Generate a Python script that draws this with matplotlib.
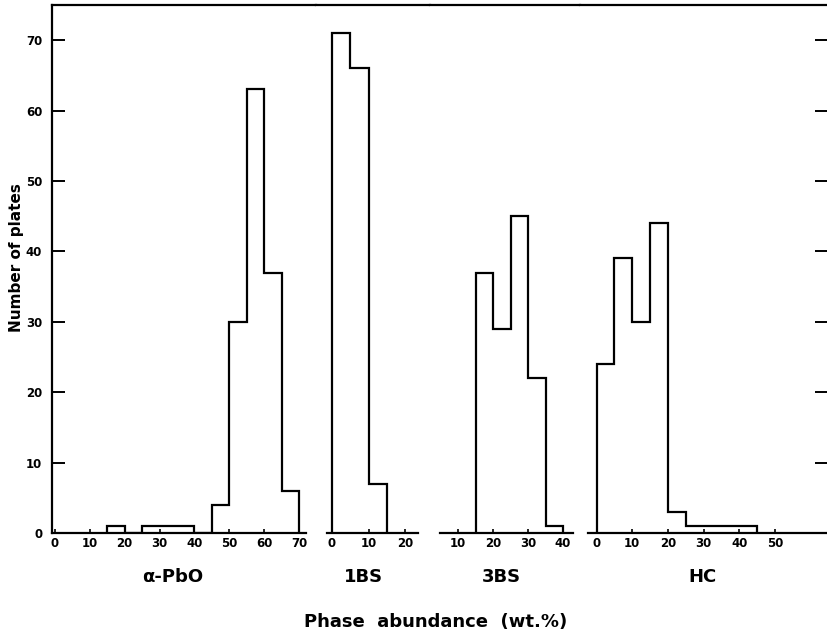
import matplotlib.pyplot as plt

# Histogram data (counts per 5 wt.% bin)
pbo_edges = [15, 20, 25, 30, 35, 40, 45, 50, 55, 60, 65, 70]
pbo_counts = [1, 0, 1, 1, 1, 0, 4, 30, 63, 37, 6]

bs1_edges = [0, 5, 10, 15]
bs1_counts = [71, 66, 7]

bs3_edges = [15, 20, 25, 30, 35, 40]
bs3_counts = [37, 29, 45, 22, 1]

hc_edges = [0, 5, 10, 15, 20, 25, 30, 35, 40, 45]
hc_counts = [24, 39, 30, 44, 3, 1, 1, 1, 1]

panel_names = ["\u03b1-PbO", "1BS", "3BS", "HC"]
panel_xticks = [[0, 10, 20, 30, 40, 50, 60, 70], [0, 10, 20], [10, 20, 30, 40],
                [0, 10, 20, 30, 40, 50]]
y_ticks = [0, 10, 20, 30, 40, 50, 60, 70]

W, H = 827, 637
plt.rcParams['font.family'] = 'DejaVu Sans'
plt.rcParams['font.weight'] = 'bold'
fig = plt.figure(figsize=(W / 100, H / 100), dpi=100)

# layout in pixels: (left px, right px, px of x=0, px per unit, baseline from, baseline to)
layout = [
    (52, 316, 55, 3.486, -0.86, 72.0),
    (316, 430, 332, 3.65, -1.4, 23.5),
    (430, 580, 423, 3.5, 4.9, 42.9),
    (580, 827, 596.5, 3.57, -2.5, 64.6),
]
name_x = [173, 363, 501, 702]
bottom_px, top_px = 533, 5

data = [(pbo_edges, pbo_counts), (bs1_edges, bs1_counts),
        (bs3_edges, bs3_counts), (hc_edges, hc_counts)]

lw = 1.6
for i, ((l, r, x0, ppu, b0, b1), (edges, counts)) in enumerate(zip(layout, data)):
    ax = fig.add_axes([l / W, 1 - bottom_px / H, (r - l) / W, (bottom_px - top_px) / H])
    ax.stairs(counts, edges, baseline=0, color='black', lw=lw)
    ax.set_xlim((l - x0) / ppu, (r - x0) / ppu)
    ax.set_ylim(0, 75)
    ax.set_xticks(panel_xticks[i])
    ax.tick_params(axis='x', direction='in', length=3, width=1.2, labelsize=8.5, pad=3)
    for s in ax.spines.values():
        s.set_linewidth(lw)
    ax.spines['right'].set_visible(False)
    ax.spines['bottom'].set_bounds(b0, b1)
    if i == 0:
        ax.set_yticks(y_ticks)
        ax.tick_params(axis='y', direction='in', length=9, width=1.4, labelsize=8.5, pad=7)
        ax.set_ylabel("Number of plates", fontsize=11, fontweight='bold')
        ax.yaxis.set_label_coords((24 - l) / (r - l), (bottom_px - 258) / (bottom_px - top_px))
    else:
        ax.spines['left'].set_visible(False)
        ax.set_yticks([])
    if i == 3:
        ax.set_yticks(y_ticks[1:])
        ax.tick_params(axis='y', left=False, labelleft=False, right=True,
                       direction='in', length=9, width=1.4)
    fig.text(name_x[i] / W, 1 - 577 / H, panel_names[i], ha='center', va='center',
             fontsize=13, fontweight='bold')

fig.text(436 / W, 1 - 622 / H, "Phase  abundance  (wt.%)", ha='center', va='center',
         fontsize=13, fontweight='bold')

fig.savefig("out.png", dpi=100)
